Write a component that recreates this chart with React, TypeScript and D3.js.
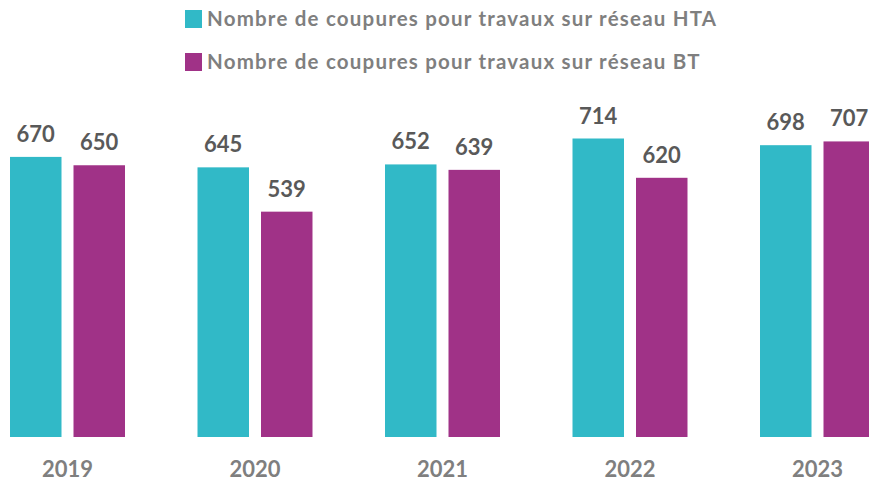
import React from "react";
import * as d3 from "d3";

const years = ["2019", "2020", "2021", "2022", "2023"];
const seriesKeys = ["HTA", "BT"];
const seriesNames = [
  "Nombre de coupures pour travaux sur réseau HTA",
  "Nombre de coupures pour travaux sur réseau BT",
];
const htaValues = [670, 645, 652, 714, 698];
const btValues = [650, 539, 639, 620, 707];
const colors = ["#31B9C7", "#A03287"];

const W = 869;
const H = 482;
const FONT = "Lato, 'Open Sans', sans-serif";

export default function App() {
  const x0 = d3
    .scaleBand<string>()
    .domain(years)
    .range([-26.25, 911.25])
    .paddingInner(0.3867)
    .paddingOuter(0.19335);
  const x1 = d3
    .scaleBand<string>()
    .domain(seriesKeys)
    .range([0, x0.bandwidth()])
    .paddingInner(0.189);
  const y = d3.scaleLinear().domain([0, 714]).range([437, 138.5]);
  const data = [htaValues, btValues];

  return (
    <svg
      width={W}
      height={H}
      style={{ position: "absolute", left: 0, top: 0, background: "#fff" }}
      fontFamily={FONT}
    >
      {seriesNames.map((name, i) => (
        <g key={name} transform={`translate(185, ${10 + i * 43})`}>
          <rect width={17} height={18} fill={colors[i]} />
          <text
            x={22}
            y={9}
            dy="0.36em"
            fontSize={20.5}
            fontWeight="bold"
            letterSpacing={1.2}
            fill="#7F7F7F"
          >
            {name}
          </text>
        </g>
      ))}
      {years.map((yr, gi) => (
        <g key={yr} transform={`translate(${x0(yr)},0)`}>
          {seriesKeys.map((k, si) => {
            const v = data[si][gi];
            const bx = x1(k)!;
            return (
              <g key={k}>
                <rect
                  x={bx}
                  y={y(v)}
                  width={x1.bandwidth()}
                  height={y(0) - y(v)}
                  fill={colors[si]}
                />
                <text
                  x={bx + x1.bandwidth() / 2}
                  y={y(v) - 15}
                  textAnchor="middle"
                  fontSize={22}
                  fontWeight="bold"
                  fill="#595959"
                >
                  {v}
                </text>
              </g>
            );
          })}
          <text
            x={x0.bandwidth() / 2}
            y={477}
            textAnchor="middle"
            fontSize={22}
            fontWeight="bold"
            fill="#7F7F7F"
          >
            {yr}
          </text>
        </g>
      ))}
    </svg>
  );
}
